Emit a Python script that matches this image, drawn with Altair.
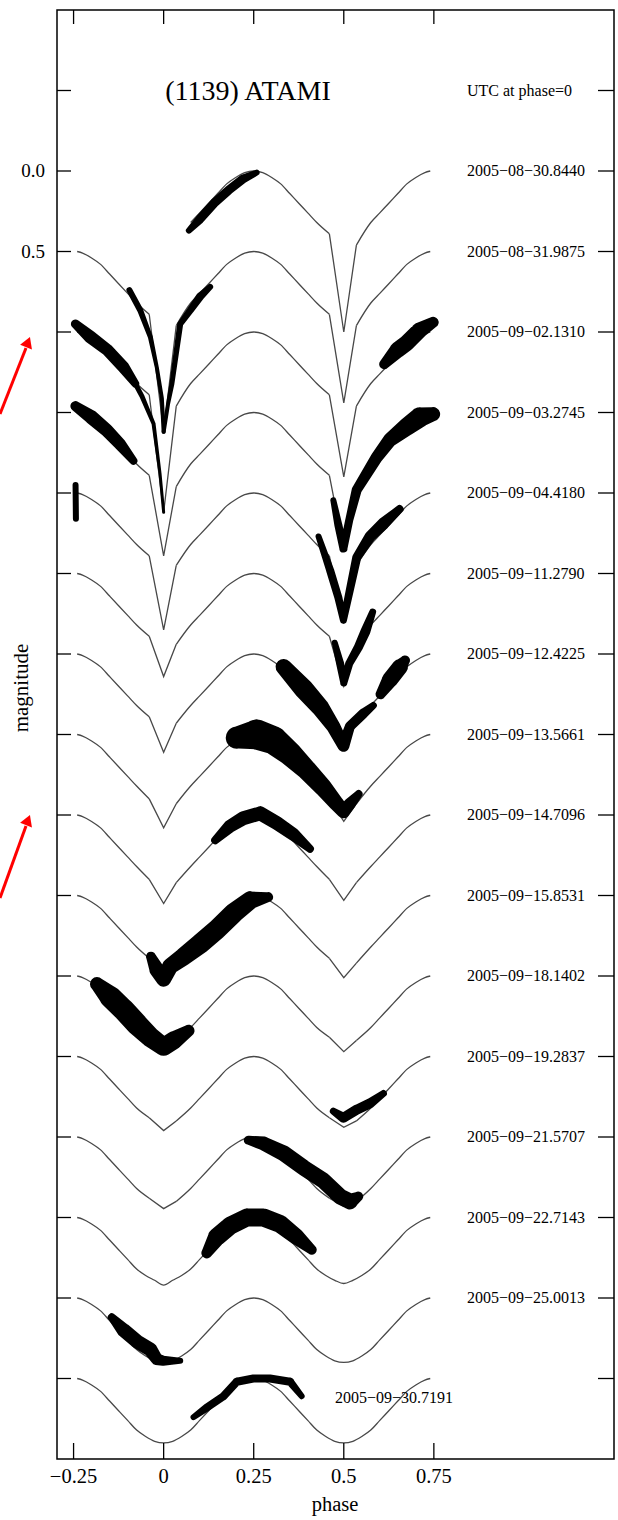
import altair as alt
import pandas as pd

# ---------------- values ----------------
ROW_OFFSET = [0.0, 0.5, 1.0, 1.5, 2.0, 2.5, 3.0, 3.5, 4.0, 4.5, 5.0, 5.5, 6.0, 6.5, 7.0, 7.5]
ROW_LABEL = ["2005−08−30.8440", "2005−08−31.9875", "2005−09−02.1310", "2005−09−03.2745",
             "2005−09−04.4180", "2005−09−11.2790", "2005−09−12.4225", "2005−09−13.5661",
             "2005−09−14.7096", "2005−09−15.8531", "2005−09−18.1402", "2005−09−19.2837",
             "2005−09−21.5707", "2005−09−22.7143", "2005−09−25.0013", "2005−09−30.7191"]
LAST_LABEL_MAG = 7.62

# model curve: smooth part (magnitude below maximum) vs phase
BASE_PHASE = [-0.24, -0.225, -0.2, -0.175, -0.15, -0.125, -0.1, -0.075, -0.05, -0.025, 0.0,
              0.025, 0.05, 0.075, 0.1, 0.125, 0.15, 0.175, 0.2, 0.225, 0.25,
              0.275, 0.3, 0.325, 0.35, 0.375, 0.4, 0.425, 0.45, 0.475, 0.5,
              0.525, 0.55, 0.575, 0.6, 0.625, 0.65, 0.675, 0.7, 0.725, 0.74]
BASE_DELTA = [0.0, 0.01, 0.04, 0.08, 0.14, 0.20, 0.26, 0.32, 0.36, 0.39, 0.40,
              0.39, 0.36, 0.32, 0.26, 0.20, 0.14, 0.08, 0.04, 0.01, 0.0,
              0.01, 0.04, 0.08, 0.14, 0.20, 0.26, 0.32, 0.36, 0.39, 0.40,
              0.39, 0.36, 0.32, 0.26, 0.20, 0.14, 0.08, 0.04, 0.01, 0.0]
MODEL_START = [0.075] + [-0.24] * 15
# eclipse minima (depth below maximum) at phase 0 and 0.5, and the shoulders beside them
DIP0_DEPTH = [None, 1.12, 1.12, 0.89, 0.85, 0.64, 0.61, 0.58, 0.55, 0.52, 0.48, 0.46, 0.445, 0.42, 0.41, 0.40]
DIP5_DEPTH = [1.00, 0.94, 0.90, 0.85, 0.81, 0.70, 0.59, 0.54, 0.53, 0.51, 0.47, 0.44, 0.43, 0.41, 0.40, 0.40]
SHOULDER_L = [0.39, 0.39, 0.39, 0.39, 0.39, 0.39, 0.39, 0.40, 0.40, 0.39, 0.38, 0.38, 0.38, None, None, None]
SHOULDER_R = [0.46, 0.46, 0.46, 0.46, 0.45, 0.44, 0.43, 0.43, 0.42, 0.42, 0.40, 0.40, 0.40, None, None, None]

# observations: centre line of each run of measurements
RUN_PHASE = [
    [0.07, 0.10, 0.14, 0.18, 0.22, 0.258],
    [-0.095, -0.065, -0.037, -0.019, -0.005, 0.0],
    [0.0, 0.012, 0.023, 0.046, 0.074, 0.101, 0.129],
    [-0.245, -0.204, -0.157, -0.111, -0.079],
    [-0.079, -0.06, -0.028, -0.01, 0.0],
    [0.612, 0.65, 0.674, 0.71, 0.748],
    [-0.245, -0.2, -0.158, -0.12, -0.084],
    [0.471, 0.485, 0.499, 0.515, 0.536, 0.591, 0.628, 0.674, 0.711, 0.748],
    [-0.2445, -0.2435],
    [0.43, 0.462, 0.485, 0.499, 0.517, 0.536, 0.573, 0.61, 0.655],
    [0.475, 0.49, 0.5, 0.515, 0.54, 0.56, 0.58],
    [0.333, 0.388, 0.434, 0.471, 0.499, 0.517, 0.554, 0.582],
    [0.602, 0.628, 0.656, 0.67],
    [0.203, 0.258, 0.305, 0.351, 0.397, 0.443, 0.48, 0.499, 0.517, 0.541],
    [0.143, 0.184, 0.221, 0.268, 0.314, 0.36, 0.406],
    [-0.035, -0.019, 0.0, 0.018, 0.055, 0.101, 0.148, 0.194, 0.24, 0.29],
    [-0.185, -0.148, -0.111, -0.074, -0.037, 0.0, 0.028, 0.069],
    [0.471, 0.499, 0.536, 0.573, 0.61],
    [0.235, 0.277, 0.332, 0.388, 0.443, 0.49, 0.517, 0.54],
    [0.12, 0.148, 0.185, 0.231, 0.277, 0.323, 0.369, 0.411],
    [-0.144, -0.111, -0.074, -0.037, -0.019, 0.0, 0.046],
    [0.083, 0.12, 0.166, 0.203, 0.249, 0.295, 0.351, 0.383],
]
RUN_MAG = [
    [0.37, 0.30, 0.20, 0.12, 0.05, 0.01],
    [0.74, 0.865, 1.03, 1.22, 1.41, 1.62],
    [1.62, 1.45, 1.32, 0.95, 0.865, 0.78, 0.72],
    [0.95, 1.03, 1.11, 1.22, 1.32],
    [1.32, 1.40, 1.57, 1.88, 2.12],
    [1.20, 1.11, 1.07, 0.99, 0.94],
    [1.46, 1.53, 1.61, 1.70, 1.80],
    [2.045, 2.20, 2.345, 2.17, 1.98, 1.78, 1.67, 1.59, 1.53, 1.51],
    [1.95, 2.16],
    [2.27, 2.48, 2.65, 2.79, 2.60, 2.40, 2.27, 2.19, 2.10],
    [2.93, 3.06, 3.18, 3.06, 2.96, 2.86, 2.74],
    [3.08, 3.215, 3.33, 3.45, 3.57, 3.45, 3.37, 3.32],
    [3.25, 3.16, 3.08, 3.04],
    [3.52, 3.50, 3.536, 3.62, 3.72, 3.83, 3.93, 3.98, 3.93, 3.87],
    [4.157, 4.07, 4.02, 3.99, 4.05, 4.12, 4.21],
    [4.88, 4.96, 5.02, 4.94, 4.88, 4.80, 4.71, 4.61, 4.53, 4.51],
    [5.05, 5.13, 5.21, 5.30, 5.38, 5.44, 5.40, 5.34],
    [5.84, 5.88, 5.83, 5.79, 5.73],
    [6.02, 6.04, 6.10, 6.19, 6.27, 6.37, 6.40, 6.37],
    [6.72, 6.62, 6.55, 6.50, 6.50, 6.54, 6.62, 6.70],
    [7.12, 7.20, 7.27, 7.32, 7.38, 7.39, 7.39],
    [7.74, 7.68, 7.61, 7.52, 7.50, 7.50, 7.52, 7.61],
]

Y_TICKS = [-0.5, 0.0, 0.5, 1.0, 1.5, 2.0, 2.5, 3.0, 3.5, 4.0, 4.5, 5.0, 5.5, 6.0, 6.5, 7.0, 7.5]
Y_LABEL_VALUES = [0.0, 0.5]
Y_LABEL_TEXT = ["0.0", "0.5"]
X_TICKS = [-0.25, 0.0, 0.25, 0.5, 0.75]
X_LABEL_TEXT = ["−0.25", "0", "0.25", "0.5", "0.75"]

# ---------------- styles (band width in pixels along each run) ----------------
RUN_WIDTH = [
    [6, 9, 9, 9, 9, 6],
    [6, 6, 5, 4, 4, 4],
    [4, 4, 5, 6, 7, 8, 6],
    [9, 13, 12, 12, 8],
    [5, 5, 4, 3, 3],
    [10, 16, 16, 16, 11],
    [10, 14, 13, 12, 8],
    [6, 8, 8, 8, 10, 12, 14, 18, 20, 14],
    [6, 6],
    [6, 8, 8, 7, 8, 9, 11, 12, 8],
    [6, 8, 7, 8, 9, 10, 7],
    [16, 20, 18, 14, 12, 10, 10, 7],
    [10, 16, 16, 10],
    [22, 30, 28, 24, 20, 18, 15, 13, 12, 8],
    [8, 13, 14, 14, 14, 13, 8],
    [10, 15, 15, 16, 18, 20, 20, 20, 18, 10],
    [14, 22, 22, 22, 20, 18, 18, 12],
    [7, 10, 10, 10, 7],
    [9, 14, 16, 16, 16, 16, 16, 10],
    [11, 18, 18, 18, 18, 18, 16, 10],
    [8, 14, 14, 14, 12, 10, 6],
    [6, 8, 8, 8, 8, 8, 8, 6],
]
FONT = "Liberation Serif"
RED = "#ff0000"

# ---------------- tables ----------------
hump_rows, vee_rows = [], []
for k, off in enumerate(ROW_OFFSET):
    pts = {p: d for p, d in zip(BASE_PHASE, BASE_DELTA) if p >= MODEL_START[k]}
    vees, right_sh = [], set()
    for tip, depth in ((0.0, DIP0_DEPTH[k]), (0.5, DIP5_DEPTH[k])):
        if depth is None:
            continue
        if SHOULDER_L[k] is None:
            pts[tip] = depth
            continue
        for p in list(pts):
            if tip - 0.055 < p < tip + 0.06:
                del pts[p]
        lp, rp = round(tip - 0.04, 3), round(tip + 0.035, 3)
        pts[lp] = SHOULDER_L[k]
        pts[rp] = SHOULDER_R[k]
        right_sh.add(rp)
        vees.append([(lp, SHOULDER_L[k]), (tip, depth), (rp, SHOULDER_R[k])])
    seg = 0
    for p in sorted(pts):
        if p in right_sh:
            seg += 1
        hump_rows.append({"seg": f"{k}-h{seg}", "phase": p, "mag": off + pts[p]})
    for j, v in enumerate(vees):
        for p, d in v:
            vee_rows.append({"seg": f"{k}-v{j}", "phase": p, "mag": off + d})
hump_df = pd.DataFrame(hump_rows)
vee_df = pd.DataFrame(vee_rows)

obs_rows = []
for i, (phs, mags, ws) in enumerate(zip(RUN_PHASE, RUN_MAG, RUN_WIDTH)):
    for p, m, w in zip(phs, mags, ws):
        obs_rows.append({"run": i, "phase": p, "mag": m, "w": w})
obs_df = pd.DataFrame(obs_rows)

label_df = pd.DataFrame({"mag": [-0.5] + ROW_OFFSET[:-1],
                         "text": ["UTC at phase=0"] + ROW_LABEL[:-1]})
last_df = pd.DataFrame({"mag": [LAST_LABEL_MAG], "text": [ROW_LABEL[-1]]})
yt_df = pd.DataFrame({"mag": Y_TICKS})
xt_df = pd.DataFrame({"phase": X_TICKS, "text": X_LABEL_TEXT})
yl_df = pd.DataFrame({"mag": Y_LABEL_VALUES, "text": Y_LABEL_TEXT})

xs = alt.Scale(domain=[-0.296, 1.25], nice=False, zero=False)
ys = alt.Scale(domain=[-1.0, 8.0], reverse=True, nice=False, zero=False)
X = alt.X("phase:Q", scale=xs, axis=None)
Y = alt.Y("mag:Q", scale=ys, axis=None)

LINE = dict(color="#484848", strokeWidth=1.3)
hump = alt.Chart(hump_df).mark_line(interpolate="monotone", **LINE).encode(
    x=X, y=Y, detail="seg:N", order="phase:Q")
vee = alt.Chart(vee_df).mark_line(**LINE).encode(
    x=X, y=Y, detail="seg:N", order="phase:Q")
obs = alt.Chart(obs_df).mark_trail(color="black", opacity=1).encode(
    x=X, y=Y,
    size=alt.Size("w:Q", scale=None, legend=None),
    detail="run:N",
    order="phase:Q",
)

# inward tick marks on all four sides of the frame
TICK = dict(color="black", strokeWidth=1.3)
tick_left = alt.Chart(yt_df).mark_rule(**TICK).encode(y=Y, x=alt.value(0), x2=alt.value(14))
tick_right = alt.Chart(yt_df).mark_rule(**TICK).encode(y=Y, x=alt.value(541), x2=alt.value(557))
tick_top = alt.Chart(xt_df).mark_rule(**TICK).encode(x=X, y=alt.value(0), y2=alt.value(14))
tick_bottom = alt.Chart(xt_df).mark_rule(**TICK).encode(x=X, y=alt.value(1433), y2=alt.value(1449))

# tick labels
xlab = alt.Chart(xt_df).mark_text(font=FONT, fontSize=20.5, align="center", baseline="middle",
                                  color="black").encode(x=X, y=alt.value(1467), text="text:N")
ylab = alt.Chart(yl_df).mark_text(font=FONT, fontSize=19, align="right", baseline="middle",
                                  color="black").encode(y=Y, x=alt.value(-12), text="text:N")

TXT = dict(font=FONT, align="left", baseline="middle", color="black")
labels = alt.Chart(label_df).mark_text(fontSize=16, **TXT).encode(
    x=alt.value(410), y=Y, text="text:N")
last = alt.Chart(last_df).mark_text(fontSize=16, **TXT).encode(
    x=alt.value(278), y=Y, text="text:N")

title = alt.Chart(pd.DataFrame({"t": ["(1139) ATAMI"]})).mark_text(
    font=FONT, fontSize=28, align="center", baseline="middle", color="black").encode(
    x=alt.value(191), y=alt.value(82), text="t:N")
ytitle = alt.Chart(pd.DataFrame({"t": ["magnitude"]})).mark_text(
    font=FONT, fontSize=21, align="center", baseline="middle", angle=270, color="black").encode(
    x=alt.value(-35), y=alt.value(678), text="t:N")
xtitle = alt.Chart(pd.DataFrame({"t": ["phase"]})).mark_text(
    font=FONT, fontSize=20.5, align="center", baseline="middle", color="black").encode(
    x=alt.value(278), y=alt.value(1495), text="t:N")

# red annotation arrows
arrow1 = alt.Chart(pd.DataFrame({"a": [0]})).mark_rule(color=RED, strokeWidth=3).encode(
    x=alt.value(-57), x2=alt.value(-31), y=alt.value(404), y2=alt.value(338))
arrow2 = alt.Chart(pd.DataFrame({"a": [0]})).mark_rule(color=RED, strokeWidth=3).encode(
    x=alt.value(-57), x2=alt.value(-31), y=alt.value(888), y2=alt.value(816))
head1 = alt.Chart(pd.DataFrame({"a": [0]})).mark_point(
    shape="triangle-up", filled=True, color=RED, size=160, angle=21, opacity=1).encode(
    x=alt.value(-29), y=alt.value(332))
head2 = alt.Chart(pd.DataFrame({"a": [0]})).mark_point(
    shape="triangle-up", filled=True, color=RED, size=160, angle=21, opacity=1).encode(
    x=alt.value(-29), y=alt.value(810))

chart = alt.layer(hump, vee, obs, tick_left, tick_right, tick_top, tick_bottom,
                  xlab, ylab, labels, last, title, ytitle, xtitle,
                  arrow1, arrow2, head1, head2).properties(
    width=557, height=1449,
    autosize=alt.AutoSizeParams(type="none"),
    padding={"left": 57, "top": 10, "right": 4, "bottom": 61},
    background="white",
).configure_view(stroke="black", strokeWidth=1.5)

chart.save("out.html", embed_options={"renderer": "svg", "actions": False})
